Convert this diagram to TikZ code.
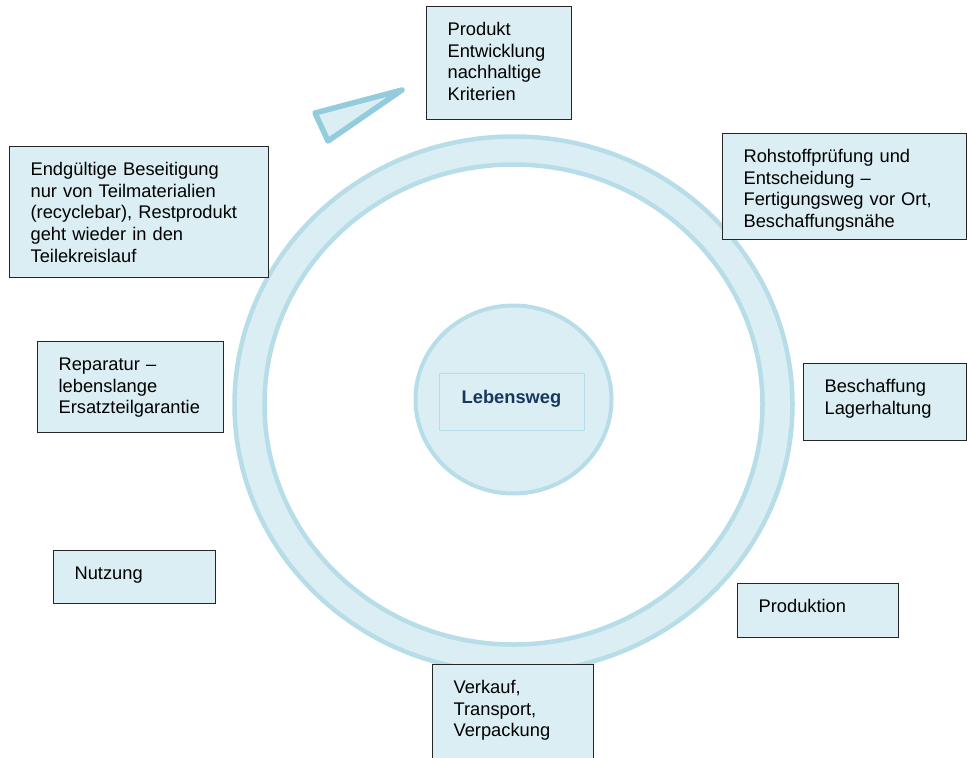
\documentclass[tikz,border=0pt]{standalone}
\usepackage{fontspec}
\setmainfont{Liberation Sans}
\definecolor{ringfill}{HTML}{DAEEF3}
\definecolor{ringline}{HTML}{B7DDE8}
\definecolor{tipline}{HTML}{93CDDD}
\definecolor{navy}{HTML}{17375E}

\begin{document}
\begin{tikzpicture}[x=1pt,y=-1pt,
   stage/.style={draw=black!85,line width=1.2pt,fill=ringfill,anchor=north west,align=left,
      inner xsep=21pt,inner ysep=0pt,text height=29pt,font=\fontsize{18.3}{21.6}\selectfont}]
   \useasboundingbox (0,0) rectangle (967,758);
   \coordinate (hub) at (513.5,404.5);
   \coordinate (core) at (513.5,399.5);
   \fill[ringfill,even odd rule] (hub) ellipse (279pt and 268pt) (hub) ellipse (249pt and 240pt);
   \draw[ringline,line width=4.5pt] (hub) ellipse (279pt and 268pt);
   \draw[ringline,line width=4.5pt] (hub) ellipse (249pt and 240pt);
   \filldraw[fill=ringfill,draw=ringline,line width=4pt] (core) ellipse (98pt and 94pt);
   \node (title) at (511.5,401.5) [draw=ringline,line width=0.8pt,minimum width=145pt,minimum height=57pt,
      text height=13.3pt,text depth=9.7pt,font=\fontsize{18.3}{21.6}\selectfont\bfseries,text=navy] {Lebensweg};
   \filldraw[fill=ringfill,draw=tipline,line width=5.5pt,line join=round] (315,113) -- (402,90) -- (328,141) -- cycle;
   \node (develop) at (426,6) [stage,text width=103pt,text depth=84pt] {Produkt\\Entwicklung\\nachhaltige\\Kriterien};
   \node (material) at (722,133) [stage,text width=202pt,text depth=77pt] {Rohstoffprüfung und\\Entscheidung --\\Fertigungsweg vor Ort,\\Beschaffungsnähe};
   \node (supply) at (803,363) [stage,text width=121pt,text depth=48pt] {Beschaffung\\Lagerhaltung};
   \node (making) at (737,583) [stage,text width=119pt,text depth=25pt] {Produktion};
   \node (sales) at (432,664) [stage,text width=119pt,text depth=67pt] {Verkauf,\\Transport,\\Verpackung};
   \node (usage) at (53,550) [stage,text width=120pt,text depth=24pt] {Nutzung};
   \node (repair) at (37,341) [stage,text width=144pt,text depth=62pt] {Reparatur --\\lebenslange\\Ersatzteilgarantie};
   \node (disposal) at (9,146) [stage,text width=217pt,text depth=102pt] {Endgültige Beseitigung\\nur von Teilmaterialien\\(recyclebar), Restprodukt\\geht wieder in den\\Teilekreislauf};
\end{tikzpicture}
\end{document}
